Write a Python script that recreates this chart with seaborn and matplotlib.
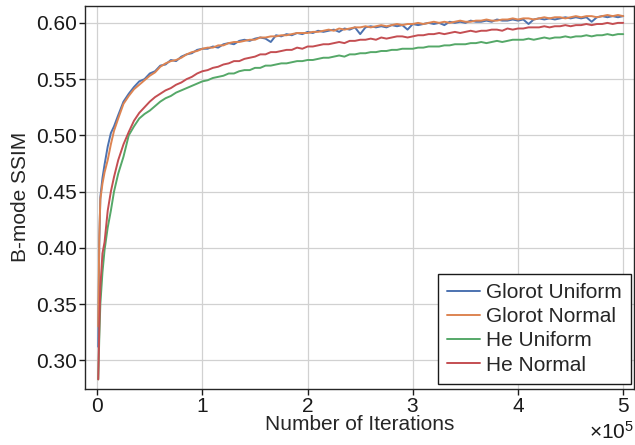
import numpy as np
import pandas as pd
import matplotlib
matplotlib.use("Agg")
import matplotlib.pyplot as plt
import seaborn as sns
from matplotlib.ticker import ScalarFormatter, MultipleLocator

# x positions in units of 1e5 iterations
x_early = [0.01, 0.02, 0.03, 0.05, 0.07, 0.10, 0.13, 0.16, 0.20, 0.25, 0.30, 0.35, 0.40, 0.45]
x_late = [round(0.50 + 0.05 * i, 2) for i in range(91)]
iters_e5 = x_early + x_late

glorot_uniform = [
    0.312, 0.405, 0.445, 0.462, 0.474, 0.490, 0.502, 0.508, 0.518, 0.530, 0.537, 0.543, 0.548, 0.550,
    0.555, 0.557, 0.562, 0.563, 0.567, 0.566, 0.570, 0.572, 0.573, 0.576,
    0.577, 0.577, 0.579, 0.578, 0.581, 0.582, 0.581, 0.584, 0.585, 0.584,
    0.586, 0.587, 0.586, 0.583, 0.589, 0.588, 0.590, 0.589, 0.591, 0.590,
    0.592, 0.591, 0.593, 0.592, 0.593, 0.594, 0.592, 0.595, 0.594, 0.596,
    0.590, 0.596, 0.597, 0.596, 0.597, 0.596, 0.598, 0.597, 0.598, 0.594,
    0.599, 0.598, 0.599, 0.600, 0.599, 0.600, 0.598, 0.601, 0.600, 0.601,
    0.600, 0.602, 0.601, 0.601, 0.602, 0.601, 0.603, 0.602, 0.602, 0.603,
    0.602, 0.603, 0.599, 0.603, 0.604, 0.603, 0.604, 0.603, 0.604, 0.605,
    0.604, 0.605, 0.604, 0.605, 0.601, 0.605, 0.606, 0.605, 0.606, 0.605,
    0.606,
]
glorot_normal = [
    0.330, 0.410, 0.443, 0.457, 0.467, 0.478, 0.492, 0.504, 0.515, 0.528, 0.535, 0.541, 0.545, 0.549,
    0.553, 0.556, 0.561, 0.564, 0.566, 0.567, 0.569, 0.572, 0.574, 0.575,
    0.577, 0.578, 0.578, 0.580, 0.580, 0.582, 0.583, 0.583, 0.584, 0.585,
    0.585, 0.587, 0.587, 0.588, 0.588, 0.589, 0.589, 0.590, 0.591, 0.591,
    0.591, 0.592, 0.592, 0.593, 0.594, 0.593, 0.595, 0.594, 0.595, 0.596,
    0.596, 0.597, 0.596, 0.597, 0.598, 0.597, 0.598, 0.599, 0.598, 0.599,
    0.599, 0.600, 0.599, 0.600, 0.601, 0.600, 0.601, 0.600, 0.601, 0.602,
    0.601, 0.601, 0.602, 0.602, 0.603, 0.602, 0.602, 0.603, 0.603, 0.604,
    0.603, 0.604, 0.604, 0.603, 0.604, 0.605, 0.604, 0.605, 0.605, 0.604,
    0.605, 0.606, 0.605, 0.606, 0.606, 0.605, 0.606, 0.607, 0.606, 0.607,
    0.606,
]
he_uniform = [
    0.283, 0.320, 0.350, 0.378, 0.398, 0.418, 0.433, 0.450, 0.466, 0.481, 0.500, 0.508, 0.515, 0.519,
    0.522, 0.526, 0.530, 0.533, 0.535, 0.538, 0.540, 0.542, 0.544, 0.546,
    0.548, 0.549, 0.551, 0.552, 0.553, 0.555, 0.555, 0.557, 0.558, 0.558,
    0.560, 0.560, 0.562, 0.562, 0.563, 0.564, 0.564, 0.565, 0.566, 0.566,
    0.567, 0.567, 0.568, 0.569, 0.569, 0.570, 0.571, 0.570, 0.572, 0.572,
    0.573, 0.573, 0.574, 0.574, 0.575, 0.575, 0.576, 0.576, 0.577, 0.577,
    0.577, 0.578, 0.578, 0.579, 0.579, 0.579, 0.580, 0.580, 0.581, 0.581,
    0.581, 0.582, 0.582, 0.583, 0.582, 0.583, 0.584, 0.583, 0.584, 0.585,
    0.585, 0.585, 0.586, 0.585, 0.586, 0.587, 0.586, 0.587, 0.587, 0.588,
    0.587, 0.588, 0.588, 0.589, 0.588, 0.589, 0.589, 0.590, 0.589, 0.590,
    0.590,
]
he_normal = [
    0.283, 0.330, 0.365, 0.395, 0.405, 0.433, 0.450, 0.463, 0.478, 0.492, 0.503, 0.513, 0.520, 0.525,
    0.530, 0.534, 0.537, 0.540, 0.542, 0.545, 0.547, 0.550, 0.552, 0.555,
    0.557, 0.558, 0.560, 0.561, 0.563, 0.564, 0.566, 0.566, 0.568, 0.569,
    0.570, 0.572, 0.572, 0.574, 0.574, 0.575, 0.576, 0.576, 0.578, 0.577,
    0.579, 0.579, 0.580, 0.581, 0.581, 0.582, 0.583, 0.582, 0.584, 0.584,
    0.585, 0.585, 0.586, 0.585, 0.587, 0.586, 0.587, 0.588, 0.588, 0.587,
    0.588, 0.589, 0.589, 0.590, 0.590, 0.591, 0.590, 0.591, 0.592, 0.591,
    0.592, 0.593, 0.592, 0.593, 0.593, 0.594, 0.594, 0.593, 0.595, 0.594,
    0.595, 0.595, 0.596, 0.596, 0.596, 0.597, 0.596, 0.597, 0.597, 0.598,
    0.597, 0.598, 0.598, 0.599, 0.598, 0.599, 0.599, 0.600, 0.599, 0.600,
    0.600,
]

labels = ["Glorot Uniform", "Glorot Normal", "He Uniform", "He Normal"]
series = [glorot_uniform, glorot_normal, he_uniform, he_normal]
for s in series:
    assert len(s) == len(iters_e5), len(s)

frames = []
for lab, vals in zip(labels, series):
    frames.append(pd.DataFrame({
        "Iterations": np.array(iters_e5) * 1e5,
        "SSIM": vals,
        "Init": lab,
    }))
df = pd.concat(frames, ignore_index=True)

sns.set_theme(style="whitegrid")
plt.rcParams["font.family"] = ["Liberation Sans", "DejaVu Sans"]
plt.rcParams["mathtext.fontset"] = "custom"
plt.rcParams["mathtext.rm"] = "Liberation Sans"

FS = 15
fig = plt.figure(figsize=(6.35, 4.45), dpi=100)
ax = fig.add_axes([0.134, 0.126, 0.864, 0.861])

palette = sns.color_palette("deep", 4)
sns.lineplot(data=df, x="Iterations", y="SSIM", hue="Init", hue_order=labels,
             palette=palette, linewidth=1.4, ax=ax, estimator=None, sort=False)

ax.set_xlim(-0.115e5, 5.1e5)
ax.set_ylim(0.2745, 0.6152)
ax.yaxis.set_major_locator(MultipleLocator(0.05))
ax.yaxis.set_major_formatter(matplotlib.ticker.FormatStrFormatter("%.2f"))
ax.xaxis.set_major_locator(MultipleLocator(1e5))
fmt = ScalarFormatter(useMathText=True)
fmt.set_powerlimits((0, 0))
ax.xaxis.set_major_formatter(fmt)
ax.xaxis.get_offset_text().set_fontsize(FS)

ax.set_xlabel("Number of Iterations", fontsize=FS, labelpad=-1)
ax.set_ylabel("B-mode SSIM", fontsize=FS, labelpad=4)
ax.tick_params(axis="both", labelsize=FS, colors="0.1", length=4, width=1,
               direction="out", left=True, bottom=True, pad=2)
ax.grid(True, color="0.82", linewidth=0.9)
for sp in ax.spines.values():
    sp.set_color("0.15")
    sp.set_linewidth(1.0)

leg = ax.legend(loc="lower right", fontsize=FS, frameon=True, fancybox=False,
                bbox_to_anchor=(631 / 635, 1 - 384 / 445), bbox_transform=fig.transFigure,
                borderaxespad=0.0, handlelength=1.55, borderpad=0.45,
                labelspacing=0.25, handletextpad=0.3)
leg.get_frame().set_edgecolor("0.1")
leg.get_frame().set_linewidth(1.0)
leg.get_frame().set_alpha(1.0)
leg.set_title(None)

fig.savefig("out.png", dpi=100)
